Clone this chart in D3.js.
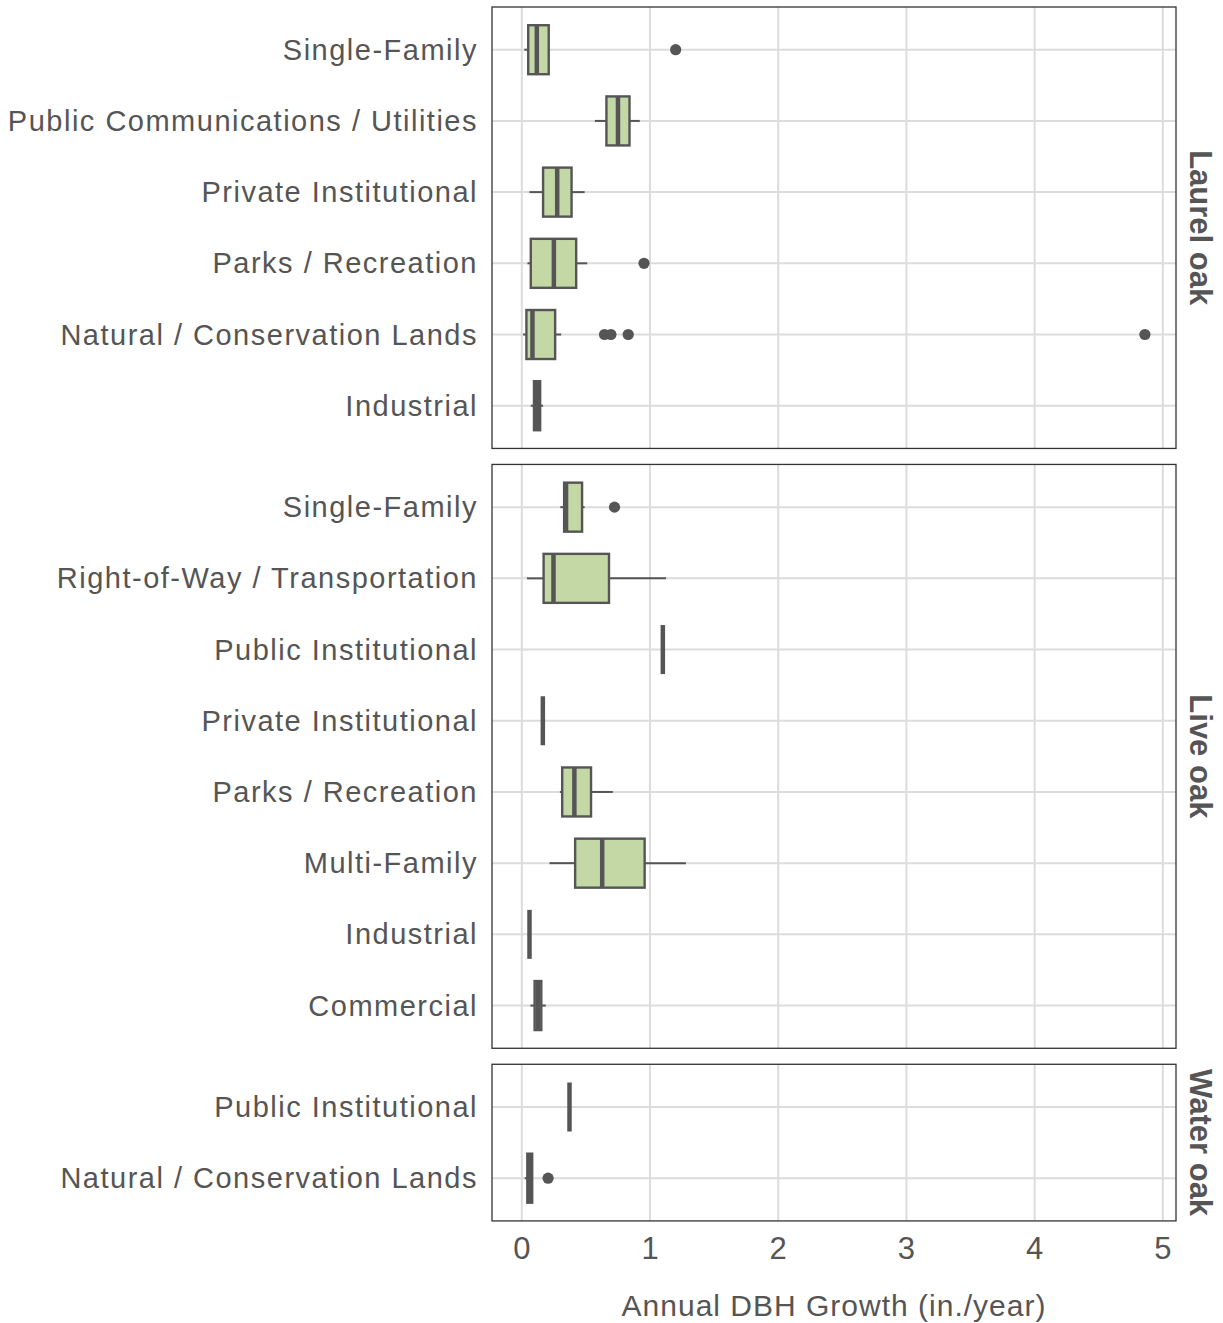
<!DOCTYPE html>
<html>
<head>
<meta charset="utf-8">
<script src="https://cdn.jsdelivr.net/npm/d3@7"></script>
<style>
  html, body { margin: 0; padding: 0; background: #fff; }
  svg { display: block; font-family: "Liberation Sans", Arial, sans-serif; }
</style>
</head>
<body>
<svg id="chart" width="1223" height="1323"></svg>
<script>
// Annual DBH growth by land use, one facet per oak species.
// Rows are listed top to bottom; stats are [lowerWhisker, q1, median, q3, upperWhisker].

const species = ["Laurel oak", "Live oak", "Water oak"];

const laurelCategories = [
  "Single-Family",
  "Public Communications / Utilities",
  "Private Institutional",
  "Parks / Recreation",
  "Natural / Conservation Lands",
  "Industrial"
];
const laurelStats = [
  [0.02, 0.05, 0.117, 0.21, 0.21],
  [0.57, 0.66, 0.75, 0.84, 0.92],
  [0.06, 0.166, 0.276, 0.388, 0.49],
  [0.044, 0.07, 0.25, 0.424, 0.51],
  [0.01, 0.036, 0.083, 0.26, 0.307],
  [0.07, 0.095, 0.12, 0.143, 0.166]
];
const laurelOutliers = [
  [1.20],
  [],
  [],
  [0.953],
  [0.645, 0.695, 0.83, 4.86],
  []
];

const liveCategories = [
  "Single-Family",
  "Right-of-Way / Transportation",
  "Public Institutional",
  "Private Institutional",
  "Parks / Recreation",
  "Multi-Family",
  "Industrial",
  "Commercial"
];
const liveStats = [
  [0.30, 0.33, 0.345, 0.47, 0.49],
  [0.04, 0.17, 0.247, 0.68, 1.125],
  [1.10, 1.10, 1.10, 1.10, 1.10],
  [0.164, 0.164, 0.164, 0.164, 0.164],
  [0.297, 0.315, 0.41, 0.54, 0.71],
  [0.216, 0.416, 0.627, 0.958, 1.28],
  [0.06, 0.06, 0.06, 0.06, 0.06],
  [0.067, 0.10, 0.126, 0.152, 0.187]
];
const liveOutliers = [
  [0.723],
  [], [], [], [], [], [], []
];

const waterCategories = [
  "Public Institutional",
  "Natural / Conservation Lands"
];
const waterStats = [
  [0.372, 0.372, 0.372, 0.372, 0.372],
  [0.023, 0.043, 0.06, 0.081, 0.081]
];
const waterOutliers = [
  [],
  [0.205]
];

const xTicks = [0, 1, 2, 3, 4, 5];
const xTitle = "Annual DBH Growth (in./year)";

// ---- layout ----
const panelLeft = 492, panelRight = 1176;
const panelTop = 7, panelGap = 16, rowUnit = 71.2;
const boxH = 49;
const ink = "#555555";
const boxFill = "#c4d8a6";
const gridColor = "#dcdcdc";

const facets = [
  { name: species[0], cats: laurelCategories, stats: laurelStats, out: laurelOutliers },
  { name: species[1], cats: liveCategories, stats: liveStats, out: liveOutliers },
  { name: species[2], cats: waterCategories, stats: waterStats, out: waterOutliers }
];

// shared x scale with 5% padding around the full data range
const allVals = [];
facets.forEach(f => {
  f.stats.forEach(s => allVals.push(...s));
  f.out.forEach(o => allVals.push(...o));
});
const [vMin, vMax] = d3.extent(allVals);
const pad = (vMax - vMin) * 0.05;
const x = d3.scaleLinear().domain([vMin - pad, vMax + pad]).range([panelLeft, panelRight]);

const svg = d3.select("#chart");

let panelY = panelTop;
facets.forEach(f => {
  const h = (f.cats.length - 1 + 1.2) * rowUnit;
  const y = d3.scalePoint().domain(f.cats).range([panelY, panelY + h]).padding(0.6);
  const g = svg.append("g");

  // grid
  g.selectAll("line.vgrid").data(xTicks).join("line")
    .attr("x1", d => x(d)).attr("x2", d => x(d))
    .attr("y1", panelY).attr("y2", panelY + h)
    .attr("stroke", gridColor).attr("stroke-width", 2);
  g.selectAll("line.hgrid").data(f.cats).join("line")
    .attr("x1", panelLeft).attr("x2", panelRight)
    .attr("y1", d => y(d)).attr("y2", d => y(d))
    .attr("stroke", gridColor).attr("stroke-width", 2);

  // boxes
  f.cats.forEach((c, i) => {
    const [lo, q1, med, q3, hi] = f.stats[i];
    const cy = y(c);
    const bg = g.append("g");
    bg.append("line").attr("x1", x(lo)).attr("x2", x(q1)).attr("y1", cy).attr("y2", cy)
      .attr("stroke", ink).attr("stroke-width", 2);
    bg.append("line").attr("x1", x(q3)).attr("x2", x(hi)).attr("y1", cy).attr("y2", cy)
      .attr("stroke", ink).attr("stroke-width", 2);
    bg.append("rect").attr("x", x(q1)).attr("width", x(q3) - x(q1))
      .attr("y", cy - boxH / 2).attr("height", boxH)
      .attr("fill", boxFill).attr("stroke", ink).attr("stroke-width", 2.4);
    bg.append("line").attr("x1", x(med)).attr("x2", x(med))
      .attr("y1", cy - boxH / 2).attr("y2", cy + boxH / 2)
      .attr("stroke", ink).attr("stroke-width", 4.5);
    bg.selectAll("circle").data(f.out[i]).join("circle")
      .attr("cx", d => x(d)).attr("cy", cy).attr("r", 5.6).attr("fill", ink);
  });

  // panel border
  g.append("rect").attr("x", panelLeft).attr("y", panelY)
    .attr("width", panelRight - panelLeft).attr("height", h)
    .attr("fill", "none").attr("stroke", "#333").attr("stroke-width", 1.3);

  // category labels
  g.selectAll("text.cat").data(f.cats).join("text")
    .attr("x", 478).attr("y", d => y(d))
    .attr("text-anchor", "end").attr("dominant-baseline", "central")
    .attr("font-size", 29).attr("letter-spacing", 1.5)
    .attr("fill", ink).text(d => d);

  // strip label
  g.append("text")
    .attr("transform", `translate(1200,${panelY + h / 2}) rotate(90)`)
    .attr("text-anchor", "middle").attr("dominant-baseline", "central")
    .attr("font-size", 31).attr("font-weight", "bold")
    .attr("fill", ink).text(f.name);

  f.bottom = panelY + h;
  panelY += h + panelGap;
});

// x axis tick labels and title
const lastBottom = facets[facets.length - 1].bottom;
svg.selectAll("text.tick").data(xTicks).join("text")
  .attr("x", d => x(d)).attr("y", lastBottom + 38)
  .attr("text-anchor", "middle")
  .attr("font-size", 31).attr("fill", ink).text(d => d);

svg.append("text")
  .attr("x", (panelLeft + panelRight) / 2).attr("y", lastBottom + 95)
  .attr("text-anchor", "middle")
  .attr("font-size", 30).attr("letter-spacing", 1.0)
  .attr("fill", ink).text(xTitle);
</script>
</body>
</html>
